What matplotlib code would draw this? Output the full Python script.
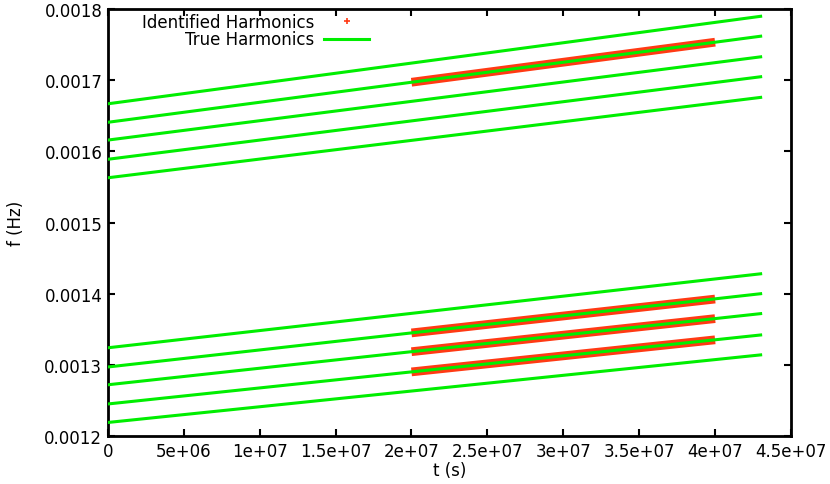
import matplotlib
matplotlib.use("Agg")
import matplotlib.pyplot as plt
from matplotlib.lines import Line2D

plt.rcParams['font.family'] = ['DejaVu Sans']

# true harmonic tracks: start (t=0) and end (t=4.3e7) frequencies
t_true = [0, 4.3e7]
upper_start = [0.001667, 0.001641, 0.001616, 0.001589, 0.001563]
upper_end = [0.001790, 0.001762, 0.001733, 0.001705, 0.001676]
lower_start = [0.001324, 0.001297, 0.001272, 0.001245, 0.001219]
lower_end = [0.001428, 0.001400, 0.001372, 0.001342, 0.001314]

# identified harmonics (dense detections between 2e7 and 4e7)
t_ident = [2e7, 4e7]
ident_start = [0.0016973, 0.0013449, 0.0013185, 0.0012901]
ident_end = [0.0017536, 0.0013925, 0.0013650, 0.0013352]

xticks = [0, 5e6, 1e7, 1.5e7, 2e7, 2.5e7, 3e7, 3.5e7, 4e7, 4.5e7]
xtick_labels = ["0", "5e+06", "1e+07", "1.5e+07", "2e+07", "2.5e+07",
                "3e+07", "3.5e+07", "4e+07", "4.5e+07"]
yticks = [0.0012, 0.0013, 0.0014, 0.0015, 0.0016, 0.0017, 0.0018]

green = "#00ee00"
red = "#ff3a14"
fs = 12

fig = plt.figure(figsize=(8.3, 4.85), dpi=100)
ax = fig.add_axes([0.130, 0.099, 0.823, 0.880])

for a, b in zip(ident_start, ident_end):
    ax.plot(t_ident, [a, b], color=red, lw=6.3, solid_capstyle='butt', zorder=2)

for a, b in zip(upper_start + lower_start, upper_end + lower_end):
    ax.plot(t_true, [a, b], color=green, lw=2.2, zorder=3)

ax.set_xlim(0, 4.5e7)
ax.set_ylim(0.0012, 0.0018)
ax.set_xticks(xticks)
ax.set_xticklabels(xtick_labels)
ax.set_yticks(yticks)
ax.set_yticklabels([f"{v:.4f}" for v in yticks])
ax.tick_params(direction='in', length=5, width=1.5, top=True, right=True,
               labelsize=fs, pad=4)
for s in ax.spines.values():
    s.set_linewidth(2)

ax.set_xlabel("t (s)", fontsize=fs, labelpad=1)
ax.set_ylabel("f (Hz)", fontsize=fs, labelpad=14)

handles = [
    Line2D([], [], color=red, marker='+', ls='none', markersize=5, mew=1.2),
    Line2D([], [], color=green, lw=2.2),
]
ax.legend(handles, ["Identified Harmonics", "True Harmonics"],
          loc='upper right', bbox_to_anchor=(0.40, 1.018), frameon=False,
          markerfirst=False, fontsize=fs, handlelength=2.7,
          labelspacing=-0.05, borderpad=0.2, handletextpad=0.6)

fig.savefig("out.png", dpi=100)
